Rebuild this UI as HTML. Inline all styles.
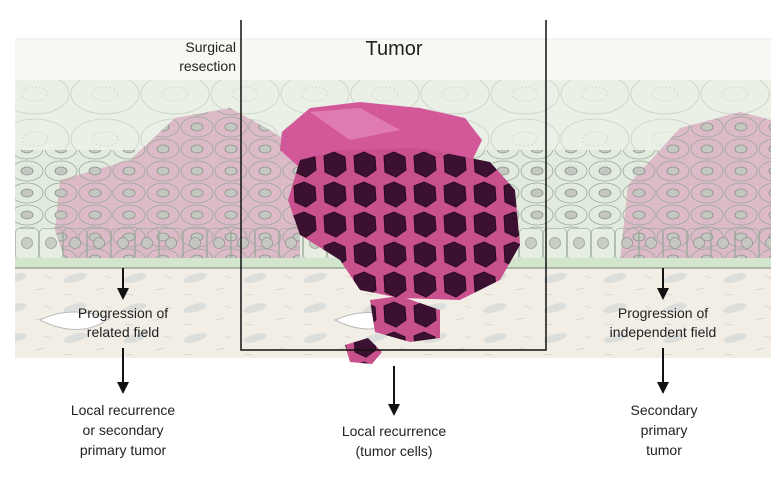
<!DOCTYPE html>
<html><head><style>
body{margin:0;background:#fff;}
svg{display:block}
text{font-family:"Liberation Sans",Arial,sans-serif;fill:#222;}
</style></head><body>
<svg width="781" height="488" viewBox="0 0 781 488" xmlns="http://www.w3.org/2000/svg">
<defs>
<pattern id="basal" x="15" y="228" width="24" height="32" patternUnits="userSpaceOnUse">
<rect x="0.5" y="0.5" width="23" height="31" rx="4" fill="none" stroke="#9aa898" stroke-width="0.8"/>
<ellipse cx="12" cy="15" rx="5.5" ry="5.5" fill="#c4c8c0" stroke="#8a9088" stroke-width="0.8"/>
</pattern>
<pattern id="mid" x="10" y="160" width="34" height="22" patternUnits="userSpaceOnUse">
<ellipse cx="17" cy="11" rx="16" ry="10" fill="none" stroke="#9aa898" stroke-width="0.8"/>
<ellipse cx="17" cy="11" rx="6" ry="4" fill="#c4c8c0" stroke="#8a9088" stroke-width="0.8"/>
</pattern>
<pattern id="top" x="0" y="70" width="70" height="45" patternUnits="userSpaceOnUse">
<ellipse cx="35" cy="24" rx="34" ry="20" fill="none" stroke="#cfd8cc"/>
<ellipse cx="35" cy="24" rx="13" ry="7" fill="none" stroke="#d3d6cf" stroke-dasharray="2 2"/>
</pattern>
<pattern id="stroma" x="0" y="270" width="60" height="30" patternUnits="userSpaceOnUse">
<ellipse cx="15" cy="8" rx="12" ry="4" fill="#dcdedb" transform="rotate(-15 15 8)"/>
<path d="M35 20 l10 -2 M5 24 l8 1 M45 6 l6 2" stroke="#ddd8cc"/>
</pattern>
<pattern id="dark" x="290" y="150" width="30" height="30" patternUnits="userSpaceOnUse">
<rect width="30" height="30" fill="#c8508c"/>
<path d="M4 6 L14 2 L25 7 L26 20 L16 27 L5 22 Z" fill="#3b1030" stroke="#2a0a20"/>
</pattern>
</defs>
<rect x="15" y="38" width="756" height="320" fill="#f3f4f1"/>
<rect x="15" y="40" width="756" height="40" fill="#f7f7f4"/>
<rect x="15" y="80" width="756" height="100" fill="#eaf0e6"/>
<rect x="15" y="80" width="756" height="100" fill="url(#top)"/>
<rect x="15" y="150" width="756" height="80" fill="#e2ecde"/>
<rect x="15" y="150" width="756" height="80" fill="url(#mid)"/>
<rect x="15" y="228" width="756" height="32" fill="#e6eee2"/>
<path d="M55 230 L60 180 L130 160 L175 118 L230 108 L270 130 L300 150 L300 260 L65 260 Z" fill="#dcbac8"/>
<path d="M620 260 L628 185 L680 128 L740 112 L771 120 L771 260 Z" fill="#dcbac8"/>
<path d="M55 230 L60 180 L130 160 L175 118 L230 108 L270 130 L300 150 L300 260 L65 260 Z" fill="url(#mid)"/>
<path d="M620 260 L628 185 L680 128 L740 112 L771 120 L771 260 Z" fill="url(#mid)"/>
<rect x="15" y="228" width="756" height="32" fill="url(#basal)" opacity="0.85"/>
<rect x="15" y="258" width="756" height="10" fill="#d3e5cc"/>
<line x1="15" y1="268" x2="771" y2="268" stroke="#8a9a86" stroke-width="1.2"/>
<rect x="15" y="269" width="756" height="89" fill="#f2eee6"/>
<rect x="15" y="269" width="756" height="89" fill="url(#stroma)"/>
<path d="M40 320 Q70 305 110 318 Q80 340 40 320 Z" fill="#fff" stroke="#bbb"/>
<path d="M335 320 Q370 305 400 320 Q370 338 335 320 Z" fill="#fff" stroke="#bbb"/>
<path d="M282 132 L310 108 L360 102 L420 108 L465 118 L482 140 L470 165 L300 168 L280 150 Z" fill="#d2589a"/>
<path d="M310 112 L360 108 L400 130 L350 140 Z" fill="#e07ab2"/>
<path d="M300 160 L340 150 L420 148 L490 162 L515 190 L520 245 L500 280 L460 300 L400 298 L360 290 L340 260 L300 235 L288 200 Z" fill="url(#dark)"/>
<path d="M370 300 L400 296 L440 310 L440 338 L410 342 L375 332 Z" fill="url(#dark)"/>
<path d="M345 345 L368 338 L382 352 L372 364 L350 362 Z" fill="url(#dark)"/>
<path d="M241 20 L241 350 L546 350 L546 20" fill="none" stroke="#111" stroke-width="1.5"/>
<text x="236" y="52" font-size="14" text-anchor="end">Surgical</text>
<text x="236" y="71" font-size="14" text-anchor="end">resection</text>
<text x="394" y="55" font-size="20" text-anchor="middle">Tumor</text>
<text x="123" y="318" font-size="14" text-anchor="middle">Progression of</text>
<text x="123" y="337" font-size="14" text-anchor="middle">related field</text>
<text x="663" y="318" font-size="14" text-anchor="middle">Progression of</text>
<text x="663" y="337" font-size="14" text-anchor="middle">independent field</text>
<text x="123" y="415" font-size="14" text-anchor="middle">Local recurrence</text>
<text x="123" y="435" font-size="14" text-anchor="middle">or secondary</text>
<text x="123" y="455" font-size="14" text-anchor="middle">primary tumor</text>
<text x="394" y="436" font-size="14" text-anchor="middle">Local recurrence</text>
<text x="394" y="456" font-size="14" text-anchor="middle">(tumor cells)</text>
<text x="664" y="415" font-size="14" text-anchor="middle">Secondary</text>
<text x="664" y="435" font-size="14" text-anchor="middle">primary</text>
<text x="664" y="455" font-size="14" text-anchor="middle">tumor</text>
<g stroke="#111" stroke-width="2">
<line x1="123" y1="268" x2="123" y2="290"/>
<line x1="123" y1="348" x2="123" y2="384"/>
<line x1="663" y1="268" x2="663" y2="290"/>
<line x1="663" y1="348" x2="663" y2="384"/>
<line x1="394" y1="366" x2="394" y2="406"/>
</g>
<g fill="#111">
<path d="M117 288 L129 288 L123 300 Z"/>
<path d="M117 382 L129 382 L123 394 Z"/>
<path d="M657 288 L669 288 L663 300 Z"/>
<path d="M657 382 L669 382 L663 394 Z"/>
<path d="M388 404 L400 404 L394 416 Z"/>
</g>
</svg>
</body></html>
